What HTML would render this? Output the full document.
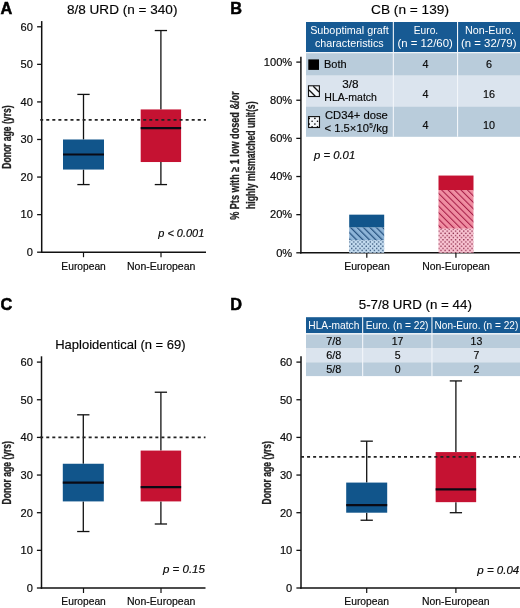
<!DOCTYPE html>
<html><head><meta charset="utf-8"><title>Figure</title>
<style>html,body{margin:0;padding:0;background:#fff;}svg{display:block;will-change:transform;}text{font-family:"Liberation Sans", sans-serif;}</style>
</head><body>
<svg width="520" height="608" viewBox="0 0 520 608" font-family='"Liberation Sans", sans-serif'>
<defs>
<pattern id="hatB" patternUnits="userSpaceOnUse" width="4.55" height="20" patternTransform="rotate(-45)">
<rect width="4.55" height="20" fill="#8DB4D8"/><rect x="0" width="1.2" height="20" fill="#24507E"/></pattern>
<pattern id="hatR" patternUnits="userSpaceOnUse" width="4.55" height="20" patternTransform="rotate(-45)">
<rect width="4.55" height="20" fill="#F08EA2"/><rect x="0" width="1.05" height="20" fill="#A61E48"/></pattern>
<pattern id="dotB" patternUnits="userSpaceOnUse" width="4.15" height="4.3">
<rect width="4.15" height="4.3" fill="#C4DCF0"/><rect x="0.4" y="0.45" width="1.3" height="1.35" fill="#2A4A70"/><rect x="2.475" y="2.6" width="1.3" height="1.35" fill="#2A4A70"/></pattern>
<pattern id="dotR" patternUnits="userSpaceOnUse" width="4.15" height="4.3">
<rect width="4.15" height="4.3" fill="#F9C4D2"/><rect x="0.4" y="0.45" width="1.3" height="1.35" fill="#8A2848"/><rect x="2.475" y="2.6" width="1.3" height="1.35" fill="#8A2848"/></pattern>
</defs>
<rect width="520" height="608" fill="#fff"/>
<text x="0.5" y="14.1" font-size="16.3" text-anchor="start" font-weight="bold" fill="#000" stroke="#000" stroke-width="0.5">A</text>
<text x="122.2" y="13.8" font-size="12.8" text-anchor="middle" stroke="#222" stroke-width="0.18" textLength="110.5" lengthAdjust="spacingAndGlyphs" >8/8 URD (n = 340)</text>
<line x1="41.7" y1="21.1" x2="41.7" y2="252.95" stroke="#111" stroke-width="1.5" />
<line x1="37.1" y1="252.2" x2="41.7" y2="252.2" stroke="#111" stroke-width="1.3" />
<text x="32.9" y="256.0" font-size="10.7" text-anchor="end" stroke="#222" stroke-width="0.18" textLength="6.17" lengthAdjust="spacingAndGlyphs" >0</text>
<line x1="37.1" y1="214.63" x2="41.7" y2="214.63" stroke="#111" stroke-width="1.3" />
<text x="32.9" y="218.43" font-size="10.7" text-anchor="end" stroke="#222" stroke-width="0.18" textLength="12.34" lengthAdjust="spacingAndGlyphs" >10</text>
<line x1="37.1" y1="177.06" x2="41.7" y2="177.06" stroke="#111" stroke-width="1.3" />
<text x="32.9" y="180.86" font-size="10.7" text-anchor="end" stroke="#222" stroke-width="0.18" textLength="12.34" lengthAdjust="spacingAndGlyphs" >20</text>
<line x1="37.1" y1="139.48999999999998" x2="41.7" y2="139.48999999999998" stroke="#111" stroke-width="1.3" />
<text x="32.9" y="143.29" font-size="10.7" text-anchor="end" stroke="#222" stroke-width="0.18" textLength="12.34" lengthAdjust="spacingAndGlyphs" >30</text>
<line x1="37.1" y1="101.91999999999999" x2="41.7" y2="101.91999999999999" stroke="#111" stroke-width="1.3" />
<text x="32.9" y="105.71999999999998" font-size="10.7" text-anchor="end" stroke="#222" stroke-width="0.18" textLength="12.34" lengthAdjust="spacingAndGlyphs" >40</text>
<line x1="37.1" y1="64.35" x2="41.7" y2="64.35" stroke="#111" stroke-width="1.3" />
<text x="32.9" y="68.14999999999999" font-size="10.7" text-anchor="end" stroke="#222" stroke-width="0.18" textLength="12.34" lengthAdjust="spacingAndGlyphs" >50</text>
<line x1="37.1" y1="26.779999999999973" x2="41.7" y2="26.779999999999973" stroke="#111" stroke-width="1.3" />
<text x="32.9" y="30.579999999999973" font-size="10.7" text-anchor="end" stroke="#222" stroke-width="0.18" textLength="12.34" lengthAdjust="spacingAndGlyphs" >60</text>
<line x1="40.95" y1="252.2" x2="206" y2="252.2" stroke="#111" stroke-width="1.5" />
<line x1="83.5" y1="252.2" x2="83.5" y2="257.2" stroke="#111" stroke-width="1.2" />
<line x1="161" y1="252.2" x2="161" y2="257.2" stroke="#111" stroke-width="1.2" />
<text x="83.6" y="269.6" font-size="10.3" text-anchor="middle" stroke="#222" stroke-width="0.18" textLength="44.5" lengthAdjust="spacingAndGlyphs" >European</text>
<text x="161.2" y="269.6" font-size="10.3" text-anchor="middle" stroke="#222" stroke-width="0.18" textLength="68.4" lengthAdjust="spacingAndGlyphs" >Non-European</text>
<line x1="83.5" y1="94.40599999999998" x2="83.5" y2="139.48999999999998" stroke="#111" stroke-width="1.3" />
<line x1="83.5" y1="169.546" x2="83.5" y2="184.57399999999998" stroke="#111" stroke-width="1.3" />
<line x1="77.35" y1="94.40599999999998" x2="89.65" y2="94.40599999999998" stroke="#111" stroke-width="1.3" />
<line x1="77.35" y1="184.57399999999998" x2="89.65" y2="184.57399999999998" stroke="#111" stroke-width="1.3" />
<rect x="63.0" y="139.48999999999998" width="41" height="30.05600000000001" fill="#11558B" />
<line x1="63.0" y1="154.51799999999997" x2="104.0" y2="154.51799999999997" stroke="#0a0a14" stroke-width="2.2" />
<line x1="160.9" y1="30.536999999999978" x2="160.9" y2="109.434" stroke="#111" stroke-width="1.3" />
<line x1="160.9" y1="162.03199999999998" x2="160.9" y2="184.57399999999998" stroke="#111" stroke-width="1.3" />
<line x1="154.75" y1="30.536999999999978" x2="167.05" y2="30.536999999999978" stroke="#111" stroke-width="1.3" />
<line x1="154.75" y1="184.57399999999998" x2="167.05" y2="184.57399999999998" stroke="#111" stroke-width="1.3" />
<rect x="140.70000000000002" y="109.434" width="40.4" height="52.597999999999985" fill="#C51232" />
<line x1="140.70000000000002" y1="128.219" x2="181.1" y2="128.219" stroke="#0a0a14" stroke-width="2.2" />
<line x1="40.2" y1="119.9" x2="206" y2="119.9" stroke="#222" stroke-width="1.6" stroke-dasharray="3 3.06"/>
<text x="158.3" y="237.4" font-size="11" text-anchor="start" font-style="italic" stroke="#222" stroke-width="0.18" textLength="46" lengthAdjust="spacingAndGlyphs" >p &lt; 0.001</text>
<text transform="translate(11.4,137.1) rotate(-90)" font-size="12.8" font-weight="bold" text-anchor="middle" fill="#222" stroke="#222" stroke-width="0.3" textLength="63.4" lengthAdjust="spacingAndGlyphs">Donor age (yrs)</text>
<text x="0.6" y="310.3" font-size="16.3" text-anchor="start" font-weight="bold" fill="#000" stroke="#000" stroke-width="0.5">C</text>
<text x="120.4" y="348.9" font-size="12.8" text-anchor="middle" stroke="#222" stroke-width="0.18" textLength="130.4" lengthAdjust="spacingAndGlyphs" >Haploidentical (n = 69)</text>
<line x1="41.5" y1="356.3" x2="41.5" y2="588.75" stroke="#111" stroke-width="1.5" />
<line x1="36.9" y1="588.0" x2="41.5" y2="588.0" stroke="#111" stroke-width="1.3" />
<text x="32.9" y="591.8" font-size="10.7" text-anchor="end" stroke="#222" stroke-width="0.18" textLength="6.17" lengthAdjust="spacingAndGlyphs" >0</text>
<line x1="36.9" y1="550.35" x2="41.5" y2="550.35" stroke="#111" stroke-width="1.3" />
<text x="32.9" y="554.15" font-size="10.7" text-anchor="end" stroke="#222" stroke-width="0.18" textLength="12.34" lengthAdjust="spacingAndGlyphs" >10</text>
<line x1="36.9" y1="512.7" x2="41.5" y2="512.7" stroke="#111" stroke-width="1.3" />
<text x="32.9" y="516.5" font-size="10.7" text-anchor="end" stroke="#222" stroke-width="0.18" textLength="12.34" lengthAdjust="spacingAndGlyphs" >20</text>
<line x1="36.9" y1="475.05" x2="41.5" y2="475.05" stroke="#111" stroke-width="1.3" />
<text x="32.9" y="478.85" font-size="10.7" text-anchor="end" stroke="#222" stroke-width="0.18" textLength="12.34" lengthAdjust="spacingAndGlyphs" >30</text>
<line x1="36.9" y1="437.4" x2="41.5" y2="437.4" stroke="#111" stroke-width="1.3" />
<text x="32.9" y="441.2" font-size="10.7" text-anchor="end" stroke="#222" stroke-width="0.18" textLength="12.34" lengthAdjust="spacingAndGlyphs" >40</text>
<line x1="36.9" y1="399.75" x2="41.5" y2="399.75" stroke="#111" stroke-width="1.3" />
<text x="32.9" y="403.55" font-size="10.7" text-anchor="end" stroke="#222" stroke-width="0.18" textLength="12.34" lengthAdjust="spacingAndGlyphs" >50</text>
<line x1="36.9" y1="362.1" x2="41.5" y2="362.1" stroke="#111" stroke-width="1.3" />
<text x="32.9" y="365.90000000000003" font-size="10.7" text-anchor="end" stroke="#222" stroke-width="0.18" textLength="12.34" lengthAdjust="spacingAndGlyphs" >60</text>
<line x1="40.75" y1="588.0" x2="205.5" y2="588.0" stroke="#111" stroke-width="1.5" />
<line x1="83.5" y1="588.0" x2="83.5" y2="593.0" stroke="#111" stroke-width="1.2" />
<line x1="161" y1="588.0" x2="161" y2="593.0" stroke="#111" stroke-width="1.2" />
<text x="83.6" y="605" font-size="10.3" text-anchor="middle" stroke="#222" stroke-width="0.18" textLength="44.5" lengthAdjust="spacingAndGlyphs" >European</text>
<text x="161.2" y="605" font-size="10.3" text-anchor="middle" stroke="#222" stroke-width="0.18" textLength="68.4" lengthAdjust="spacingAndGlyphs" >Non-European</text>
<line x1="83.3" y1="414.81" x2="83.3" y2="463.755" stroke="#111" stroke-width="1.3" />
<line x1="83.3" y1="501.405" x2="83.3" y2="531.525" stroke="#111" stroke-width="1.3" />
<line x1="77.14999999999999" y1="414.81" x2="89.45" y2="414.81" stroke="#111" stroke-width="1.3" />
<line x1="77.14999999999999" y1="531.525" x2="89.45" y2="531.525" stroke="#111" stroke-width="1.3" />
<rect x="62.8" y="463.755" width="41" height="37.64999999999998" fill="#11558B" />
<line x1="62.8" y1="482.58" x2="103.8" y2="482.58" stroke="#0a0a14" stroke-width="2.2" />
<line x1="160.9" y1="392.22" x2="160.9" y2="450.5775" stroke="#111" stroke-width="1.3" />
<line x1="160.9" y1="501.405" x2="160.9" y2="523.995" stroke="#111" stroke-width="1.3" />
<line x1="154.75" y1="392.22" x2="167.05" y2="392.22" stroke="#111" stroke-width="1.3" />
<line x1="154.75" y1="523.995" x2="167.05" y2="523.995" stroke="#111" stroke-width="1.3" />
<rect x="140.65" y="450.5775" width="40.5" height="50.827499999999986" fill="#C51232" />
<line x1="140.65" y1="487.098" x2="181.15" y2="487.098" stroke="#0a0a14" stroke-width="2.2" />
<line x1="40.2" y1="437.4" x2="205.5" y2="437.4" stroke="#222" stroke-width="1.6" stroke-dasharray="3 3.06"/>
<text x="163" y="572.8" font-size="11" text-anchor="start" font-style="italic" stroke="#222" stroke-width="0.18" textLength="41.9" lengthAdjust="spacingAndGlyphs" >p = 0.15</text>
<text transform="translate(11.4,472.8) rotate(-90)" font-size="12.8" font-weight="bold" text-anchor="middle" fill="#222" stroke="#222" stroke-width="0.3" textLength="63.4" lengthAdjust="spacingAndGlyphs">Donor age (yrs)</text>
<text x="230.2" y="309.9" font-size="16.3" text-anchor="start" font-weight="bold" fill="#000" stroke="#000" stroke-width="0.5">D</text>
<text x="415.3" y="308.8" font-size="12.8" text-anchor="middle" stroke="#222" stroke-width="0.18" textLength="113.1" lengthAdjust="spacingAndGlyphs" >5-7/8 URD (n = 44)</text>
<line x1="301.0" y1="356.3" x2="301.0" y2="588.75" stroke="#111" stroke-width="1.5" />
<line x1="296.4" y1="588.0" x2="301.0" y2="588.0" stroke="#111" stroke-width="1.3" />
<text x="292.3" y="591.8" font-size="10.7" text-anchor="end" stroke="#222" stroke-width="0.18" textLength="6.17" lengthAdjust="spacingAndGlyphs" >0</text>
<line x1="296.4" y1="550.35" x2="301.0" y2="550.35" stroke="#111" stroke-width="1.3" />
<text x="292.3" y="554.15" font-size="10.7" text-anchor="end" stroke="#222" stroke-width="0.18" textLength="12.34" lengthAdjust="spacingAndGlyphs" >10</text>
<line x1="296.4" y1="512.7" x2="301.0" y2="512.7" stroke="#111" stroke-width="1.3" />
<text x="292.3" y="516.5" font-size="10.7" text-anchor="end" stroke="#222" stroke-width="0.18" textLength="12.34" lengthAdjust="spacingAndGlyphs" >20</text>
<line x1="296.4" y1="475.05" x2="301.0" y2="475.05" stroke="#111" stroke-width="1.3" />
<text x="292.3" y="478.85" font-size="10.7" text-anchor="end" stroke="#222" stroke-width="0.18" textLength="12.34" lengthAdjust="spacingAndGlyphs" >30</text>
<line x1="296.4" y1="437.4" x2="301.0" y2="437.4" stroke="#111" stroke-width="1.3" />
<text x="292.3" y="441.2" font-size="10.7" text-anchor="end" stroke="#222" stroke-width="0.18" textLength="12.34" lengthAdjust="spacingAndGlyphs" >40</text>
<line x1="296.4" y1="399.75" x2="301.0" y2="399.75" stroke="#111" stroke-width="1.3" />
<text x="292.3" y="403.55" font-size="10.7" text-anchor="end" stroke="#222" stroke-width="0.18" textLength="12.34" lengthAdjust="spacingAndGlyphs" >50</text>
<line x1="296.4" y1="362.1" x2="301.0" y2="362.1" stroke="#111" stroke-width="1.3" />
<text x="292.3" y="365.90000000000003" font-size="10.7" text-anchor="end" stroke="#222" stroke-width="0.18" textLength="12.34" lengthAdjust="spacingAndGlyphs" >60</text>
<line x1="300.25" y1="588.0" x2="520" y2="588.0" stroke="#111" stroke-width="1.5" />
<line x1="366.7" y1="588.0" x2="366.7" y2="593.0" stroke="#111" stroke-width="1.2" />
<line x1="455.9" y1="588.0" x2="455.9" y2="593.0" stroke="#111" stroke-width="1.2" />
<text x="366.7" y="604.6" font-size="10.3" text-anchor="middle" stroke="#222" stroke-width="0.18" textLength="44.8" lengthAdjust="spacingAndGlyphs" >European</text>
<text x="455.8" y="604.6" font-size="10.3" text-anchor="middle" stroke="#222" stroke-width="0.18" textLength="67.6" lengthAdjust="spacingAndGlyphs" >Non-European</text>
<line x1="366.7" y1="441.16499999999996" x2="366.7" y2="482.58" stroke="#111" stroke-width="1.3" />
<line x1="366.7" y1="512.7" x2="366.7" y2="520.23" stroke="#111" stroke-width="1.3" />
<line x1="360.55" y1="441.16499999999996" x2="372.84999999999997" y2="441.16499999999996" stroke="#111" stroke-width="1.3" />
<line x1="360.55" y1="520.23" x2="372.84999999999997" y2="520.23" stroke="#111" stroke-width="1.3" />
<rect x="346.2" y="482.58" width="41" height="30.12000000000006" fill="#11558B" />
<line x1="346.2" y1="505.17" x2="387.2" y2="505.17" stroke="#0a0a14" stroke-width="2.2" />
<line x1="455.9" y1="380.92499999999995" x2="455.9" y2="452.08349999999996" stroke="#111" stroke-width="1.3" />
<line x1="455.9" y1="502.158" x2="455.9" y2="512.7" stroke="#111" stroke-width="1.3" />
<line x1="449.75" y1="380.92499999999995" x2="462.04999999999995" y2="380.92499999999995" stroke="#111" stroke-width="1.3" />
<line x1="449.75" y1="512.7" x2="462.04999999999995" y2="512.7" stroke="#111" stroke-width="1.3" />
<rect x="435.65" y="452.08349999999996" width="40.5" height="50.07450000000006" fill="#C51232" />
<line x1="435.65" y1="489.35699999999997" x2="476.15" y2="489.35699999999997" stroke="#0a0a14" stroke-width="2.2" />
<line x1="301" y1="456.9" x2="520" y2="456.9" stroke="#222" stroke-width="1.6" stroke-dasharray="3 3.06"/>
<text x="477.3" y="573.5" font-size="11" text-anchor="start" font-style="italic" stroke="#222" stroke-width="0.18" textLength="42" lengthAdjust="spacingAndGlyphs" >p = 0.04</text>
<text transform="translate(271.4,472.8) rotate(-90)" font-size="12.8" font-weight="bold" text-anchor="middle" fill="#222" stroke="#222" stroke-width="0.3" textLength="63.4" lengthAdjust="spacingAndGlyphs">Donor age (yrs)</text>
<rect x="306" y="317.2" width="214" height="16" fill="#175A93" />
<rect x="306" y="333.2" width="214" height="1.3" fill="#EEF3F8" />
<rect x="306" y="334.5" width="214" height="14" fill="#B9CCDB" />
<rect x="306" y="348.5" width="214" height="13.8" fill="#DBE4EE" />
<rect x="306" y="362.3" width="214" height="13.8" fill="#B9CCDB" />
<rect x="362.1" y="317.2" width="1.1" height="58.9" fill="#F2F6FA" />
<rect x="431.4" y="317.2" width="1.1" height="58.9" fill="#F2F6FA" />
<text x="308.3" y="328.7" font-size="10.9" text-anchor="start" fill="#fff" textLength="51.1" lengthAdjust="spacingAndGlyphs" >HLA-match</text>
<text x="365.8" y="328.7" font-size="10.9" text-anchor="start" fill="#fff" textLength="62.7" lengthAdjust="spacingAndGlyphs" >Euro. (n = 22)</text>
<text x="434.5" y="328.7" font-size="10.9" text-anchor="start" fill="#fff" textLength="83.8" lengthAdjust="spacingAndGlyphs" >Non-Euro. (n = 22)</text>
<text x="333.8" y="345.3" font-size="10.5" text-anchor="middle" stroke="#222" stroke-width="0.18" textLength="15.2" lengthAdjust="spacingAndGlyphs" >7/8</text>
<text x="397.6" y="345.3" font-size="10.5" text-anchor="middle" stroke="#222" stroke-width="0.18" >17</text>
<text x="476.4" y="345.3" font-size="10.5" text-anchor="middle" stroke="#222" stroke-width="0.18" >13</text>
<text x="333.8" y="359" font-size="10.5" text-anchor="middle" stroke="#222" stroke-width="0.18" textLength="15.2" lengthAdjust="spacingAndGlyphs" >6/8</text>
<text x="397.6" y="359" font-size="10.5" text-anchor="middle" stroke="#222" stroke-width="0.18" >5</text>
<text x="476.4" y="359" font-size="10.5" text-anchor="middle" stroke="#222" stroke-width="0.18" >7</text>
<text x="333.8" y="372.8" font-size="10.5" text-anchor="middle" stroke="#222" stroke-width="0.18" textLength="15.2" lengthAdjust="spacingAndGlyphs" >5/8</text>
<text x="397.6" y="372.8" font-size="10.5" text-anchor="middle" stroke="#222" stroke-width="0.18" >0</text>
<text x="476.4" y="372.8" font-size="10.5" text-anchor="middle" stroke="#222" stroke-width="0.18" >2</text>
<text x="230.2" y="14.1" font-size="16.3" text-anchor="start" font-weight="bold" fill="#000" stroke="#000" stroke-width="0.5">B</text>
<text x="410" y="13.7" font-size="12.8" text-anchor="middle" stroke="#222" stroke-width="0.18" textLength="78" lengthAdjust="spacingAndGlyphs" >CB (n = 139)</text>
<line x1="300.9" y1="56.7" x2="300.9" y2="253.55" stroke="#111" stroke-width="1.5" />
<line x1="296.29999999999995" y1="252.8" x2="300.9" y2="252.8" stroke="#111" stroke-width="1.3" />
<text x="292.2" y="256.6" font-size="10.7" text-anchor="end" stroke="#222" stroke-width="0.18" textLength="16.04" lengthAdjust="spacingAndGlyphs" >0%</text>
<line x1="296.29999999999995" y1="214.66000000000003" x2="300.9" y2="214.66000000000003" stroke="#111" stroke-width="1.3" />
<text x="292.2" y="218.46000000000004" font-size="10.7" text-anchor="end" stroke="#222" stroke-width="0.18" textLength="22.21" lengthAdjust="spacingAndGlyphs" >20%</text>
<line x1="296.29999999999995" y1="176.52" x2="300.9" y2="176.52" stroke="#111" stroke-width="1.3" />
<text x="292.2" y="180.32000000000002" font-size="10.7" text-anchor="end" stroke="#222" stroke-width="0.18" textLength="22.21" lengthAdjust="spacingAndGlyphs" >40%</text>
<line x1="296.29999999999995" y1="138.38" x2="300.9" y2="138.38" stroke="#111" stroke-width="1.3" />
<text x="292.2" y="142.18" font-size="10.7" text-anchor="end" stroke="#222" stroke-width="0.18" textLength="22.21" lengthAdjust="spacingAndGlyphs" >60%</text>
<line x1="296.29999999999995" y1="100.24000000000001" x2="300.9" y2="100.24000000000001" stroke="#111" stroke-width="1.3" />
<text x="292.2" y="104.04" font-size="10.7" text-anchor="end" stroke="#222" stroke-width="0.18" textLength="22.21" lengthAdjust="spacingAndGlyphs" >80%</text>
<line x1="296.29999999999995" y1="62.10000000000002" x2="300.9" y2="62.10000000000002" stroke="#111" stroke-width="1.3" />
<text x="292.2" y="65.90000000000002" font-size="10.7" text-anchor="end" stroke="#222" stroke-width="0.18" textLength="28.38" lengthAdjust="spacingAndGlyphs" >100%</text>
<line x1="300.15" y1="252.8" x2="520" y2="252.8" stroke="#111" stroke-width="1.5" />
<line x1="366.8" y1="252.8" x2="366.8" y2="257.8" stroke="#111" stroke-width="1.2" />
<line x1="455.9" y1="252.8" x2="455.9" y2="257.8" stroke="#111" stroke-width="1.2" />
<text x="367" y="270" font-size="10.3" text-anchor="middle" stroke="#222" stroke-width="0.18" textLength="45.6" lengthAdjust="spacingAndGlyphs" >European</text>
<text x="456" y="270" font-size="10.3" text-anchor="middle" stroke="#222" stroke-width="0.18" textLength="67.7" lengthAdjust="spacingAndGlyphs" >Non-European</text>
<text transform="translate(239.2,155.6) rotate(-90)" font-size="12" font-weight="bold" text-anchor="middle" fill="#222" stroke="#222" stroke-width="0.25" textLength="128.5" lengthAdjust="spacingAndGlyphs">% Pts with ≥ 1 low dosed &amp;/or</text>
<text transform="translate(254.8,155.2) rotate(-90)" font-size="12" font-weight="bold" text-anchor="middle" fill="#222" stroke="#222" stroke-width="0.25" textLength="107.5" lengthAdjust="spacingAndGlyphs">highly mismatched unit(s)</text>
<text x="314" y="158.6" font-size="11" text-anchor="start" font-style="italic" stroke="#222" stroke-width="0.18" textLength="41.2" lengthAdjust="spacingAndGlyphs" >p = 0.01</text>
<rect x="349.2" y="240.08666666666667" width="35" height="12.713333333333335" fill="url(#dotB)" />
<rect x="349.2" y="227.37333333333333" width="35" height="12.713333333333335" fill="url(#hatB)" />
<rect x="349.2" y="214.66" width="35" height="12.713333333333335" fill="#11558B" />
<rect x="438.5" y="228.6607594936709" width="35" height="24.139240506329113" fill="url(#dotR)" />
<rect x="438.5" y="190.03797468354432" width="35" height="38.62278481012658" fill="url(#hatR)" />
<rect x="438.5" y="175.55443037974686" width="35" height="14.48354430379747" fill="#C51232" />
<rect x="306" y="22" width="214" height="30" fill="#175A93" />
<rect x="306" y="52" width="214" height="1.2" fill="#EEF3F8" />
<rect x="306" y="53.2" width="214" height="22.5" fill="#B9CCDB" />
<rect x="306" y="75.7" width="214" height="30.8" fill="#DBE4EE" />
<rect x="306" y="106.5" width="214" height="30.3" fill="#B9CCDB" />
<rect x="392.8" y="22" width="1.1" height="114.8" fill="#F2F6FA" />
<rect x="457.0" y="22" width="1.1" height="114.8" fill="#F2F6FA" />
<text x="349.5" y="34.2" font-size="10.8" text-anchor="middle" fill="#fff" textLength="78.7" lengthAdjust="spacingAndGlyphs" >Suboptimal graft</text>
<text x="349.3" y="47.3" font-size="10.8" text-anchor="middle" fill="#fff" textLength="68.7" lengthAdjust="spacingAndGlyphs" >characteristics</text>
<text x="426" y="33.9" font-size="10.8" text-anchor="middle" fill="#fff" textLength="24.4" lengthAdjust="spacingAndGlyphs" >Euro.</text>
<text x="425.1" y="47.3" font-size="10.8" text-anchor="middle" fill="#fff" textLength="55.4" lengthAdjust="spacingAndGlyphs" >(n = 12/60)</text>
<text x="489.5" y="33.9" font-size="10.8" text-anchor="middle" fill="#fff" textLength="48.9" lengthAdjust="spacingAndGlyphs" >Non-Euro.</text>
<text x="488.7" y="47.3" font-size="10.8" text-anchor="middle" fill="#fff" textLength="55.5" lengthAdjust="spacingAndGlyphs" >(n = 32/79)</text>
<rect x="308.3" y="59.4" width="10.7" height="10.5" fill="#000" />
<text x="324" y="67.6" font-size="10.8" text-anchor="start" stroke="#222" stroke-width="0.18" textLength="22.7" lengthAdjust="spacingAndGlyphs" >Both</text>
<rect x="308.5" y="85.8" width="10.9" height="10.7" fill="#F3F6F9" stroke="#111" stroke-width="1.1"/>
<line x1="313.3" y1="86.3" x2="319" y2="92" stroke="#111" stroke-width="1.3" />
<line x1="309" y1="90.0" x2="315.3" y2="96.3" stroke="#111" stroke-width="1.3" />
<text x="350.5" y="88.3" font-size="10.8" text-anchor="middle" stroke="#222" stroke-width="0.18" textLength="16.3" lengthAdjust="spacingAndGlyphs" >3/8</text>
<text x="324.3" y="101.1" font-size="10.8" text-anchor="start" stroke="#222" stroke-width="0.18" textLength="52.7" lengthAdjust="spacingAndGlyphs" >HLA-match</text>
<rect x="308.6" y="116.6" width="10.9" height="10.9" fill="#F3F6F9" stroke="#111" stroke-width="1.1"/>
<circle cx="309.2" cy="118.4" r="0.8" fill="#000"/>
<circle cx="314.9" cy="118.4" r="0.8" fill="#000"/>
<circle cx="312.1" cy="121.3" r="0.8" fill="#000"/>
<circle cx="317.5" cy="121.3" r="0.8" fill="#000"/>
<circle cx="309.2" cy="124.1" r="0.8" fill="#000"/>
<circle cx="314.9" cy="124.1" r="0.8" fill="#000"/>
<circle cx="312.1" cy="126.8" r="0.8" fill="#000"/>
<circle cx="317.5" cy="126.8" r="0.8" fill="#000"/>
<text x="325" y="118.7" font-size="10.8" text-anchor="start" stroke="#222" stroke-width="0.18" textLength="62.8" lengthAdjust="spacingAndGlyphs" >CD34+ dose</text>
<text x="324.6" y="132.1" font-size="10.8" text-anchor="start" stroke="#222" stroke-width="0.18" textLength="44.3" lengthAdjust="spacingAndGlyphs" >&lt; 1.5×10</text>
<text x="369.3" y="127.8" font-size="7.3" text-anchor="start" stroke="#222" stroke-width="0.18" textLength="3.6" lengthAdjust="spacingAndGlyphs" >5</text>
<text x="373" y="132.1" font-size="10.8" text-anchor="start" stroke="#222" stroke-width="0.18" textLength="15.2" lengthAdjust="spacingAndGlyphs" >/kg</text>
<text x="425.6" y="67.5" font-size="10.8" text-anchor="middle" stroke="#222" stroke-width="0.18" >4</text>
<text x="489" y="67.5" font-size="10.8" text-anchor="middle" stroke="#222" stroke-width="0.18" >6</text>
<text x="425.6" y="97.9" font-size="10.8" text-anchor="middle" stroke="#222" stroke-width="0.18" >4</text>
<text x="489" y="97.9" font-size="10.8" text-anchor="middle" stroke="#222" stroke-width="0.18" >16</text>
<text x="425.6" y="128.6" font-size="10.8" text-anchor="middle" stroke="#222" stroke-width="0.18" >4</text>
<text x="489" y="128.6" font-size="10.8" text-anchor="middle" stroke="#222" stroke-width="0.18" >10</text>
</svg>
</body></html>
